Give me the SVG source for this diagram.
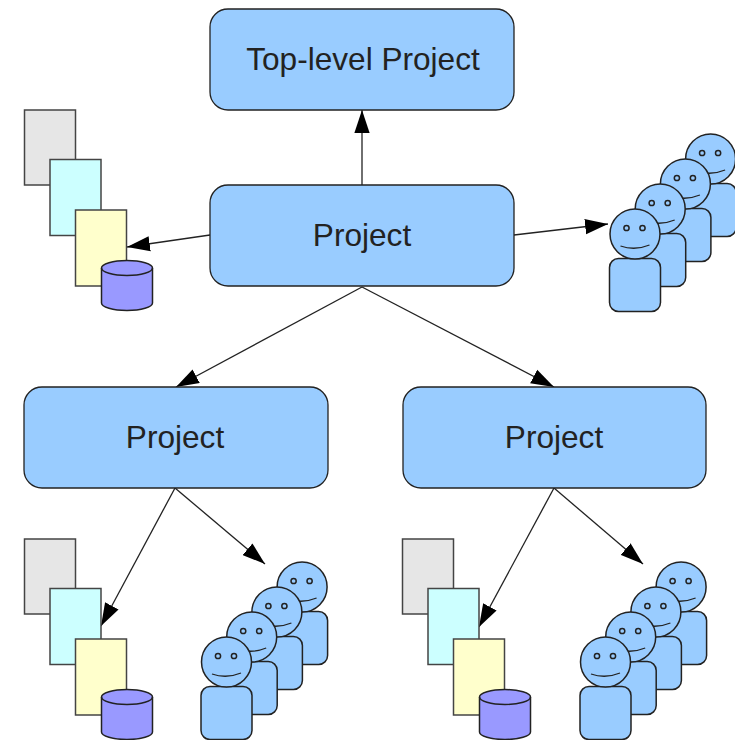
<svg xmlns="http://www.w3.org/2000/svg" xmlns:xlink="http://www.w3.org/1999/xlink" width="735" height="740" viewBox="0 0 735 740">
<style>
.box{fill:#99ccff;stroke:#222;stroke-width:1.3}
.lbl{font-family:"Liberation Sans",Arial,sans-serif;font-size:31.600px;fill:#222;text-anchor:middle}
.doc{stroke:#444;stroke-width:1.5}
.cyl{fill:#9999ff;stroke:#222;stroke-width:1.5}
.p{fill:#99ccff;stroke:#222;stroke-width:1.5}
.f{fill:none;stroke:#222;stroke-width:1.3}
.eye{fill:#99ccff;stroke:#222;stroke-width:1.5}
.c{fill:none;stroke:#222;stroke-width:1.3;marker-end:url(#arrow)}
</style>
<defs>
<marker id="arrow" markerUnits="userSpaceOnUse" markerWidth="24" markerHeight="16" refX="21" refY="7" orient="auto" viewBox="0 0 22 14">
<path d="M0 0L21 7L0 14Z" fill="#000"/>
</marker>
<g id="person">
<rect class="p" x="0" y="24.500" width="51" height="53" rx="9"/>
<circle class="p" cx="25.500" cy="0" r="25"/>
<circle class="eye" cx="17" cy="-6" r="2.600"/>
<circle class="eye" cx="33" cy="-6" r="2.600"/>
<path class="f" d="M11 12Q25.500 17 40 11"/>
</g>
<g id="crowd">
<use xlink:href="#person" href="#person" x="75.600" y="-75"/>
<use xlink:href="#person" href="#person" x="50.400" y="-50"/>
<use xlink:href="#person" href="#person" x="25.200" y="-25"/>
<use xlink:href="#person" href="#person"/>
</g>
<g id="docs">
<rect class="doc" fill="#e6e6e6" x="0" y="0" width="51" height="75"/>
<rect class="doc" fill="#ccffff" x="25.500" y="49.500" width="51" height="76"/>
<rect class="doc" fill="#ffffcc" x="51" y="100" width="51" height="76"/>
<path class="cyl" d="M77 158a25.500 7.500 0 0 1 51 0v35a25.500 7.500 0 0 1-51 0Z"/>
<path class="cyl" d="M77 158a25.500 7.500 0 0 0 51 0" style="fill:none"/>
</g>
</defs>
<g id="connectors">
<path class="c" d="M362 185L362 110"/>
<path class="c" d="M210 235L127 247"/>
<path class="c" d="M514 235L608 224"/>
<path class="c" d="M362 287L176 387"/>
<path class="c" d="M362 287L554 387"/>
<path class="c" d="M175 488L101 626"/>
<path class="c" d="M175 488L265 564"/>
<path class="c" d="M554 488L479 627"/>
<path class="c" d="M554 488L643 564"/>
</g>
<g id="node-top"><rect class="box" x="210" y="9" width="304" height="101" rx="18"/><text class="lbl" x="363" y="70">Top-level Project</text></g>
<g id="node-project"><rect class="box" x="210" y="185" width="304" height="101" rx="18"/><text class="lbl" x="362" y="246">Project</text></g>
<g id="node-left"><rect class="box" x="24" y="387" width="304" height="101" rx="18"/><text class="lbl" x="175" y="448">Project</text></g>
<g id="node-right"><rect class="box" x="403" y="387" width="303" height="101" rx="18"/><text class="lbl" x="554" y="448">Project</text></g>
<g id="docs-top"><use xlink:href="#docs" href="#docs" x="24.500" y="110"/></g>
<g id="docs-left"><use xlink:href="#docs" href="#docs" x="24.500" y="539"/></g>
<g id="docs-right"><use xlink:href="#docs" href="#docs" x="402.500" y="539"/></g>
<g id="people-top"><use xlink:href="#crowd" href="#crowd" x="609.500" y="234"/></g>
<g id="people-left"><use xlink:href="#crowd" href="#crowd" x="201" y="662"/></g>
<g id="people-right"><use xlink:href="#crowd" href="#crowd" x="580" y="662"/></g>
</svg>
